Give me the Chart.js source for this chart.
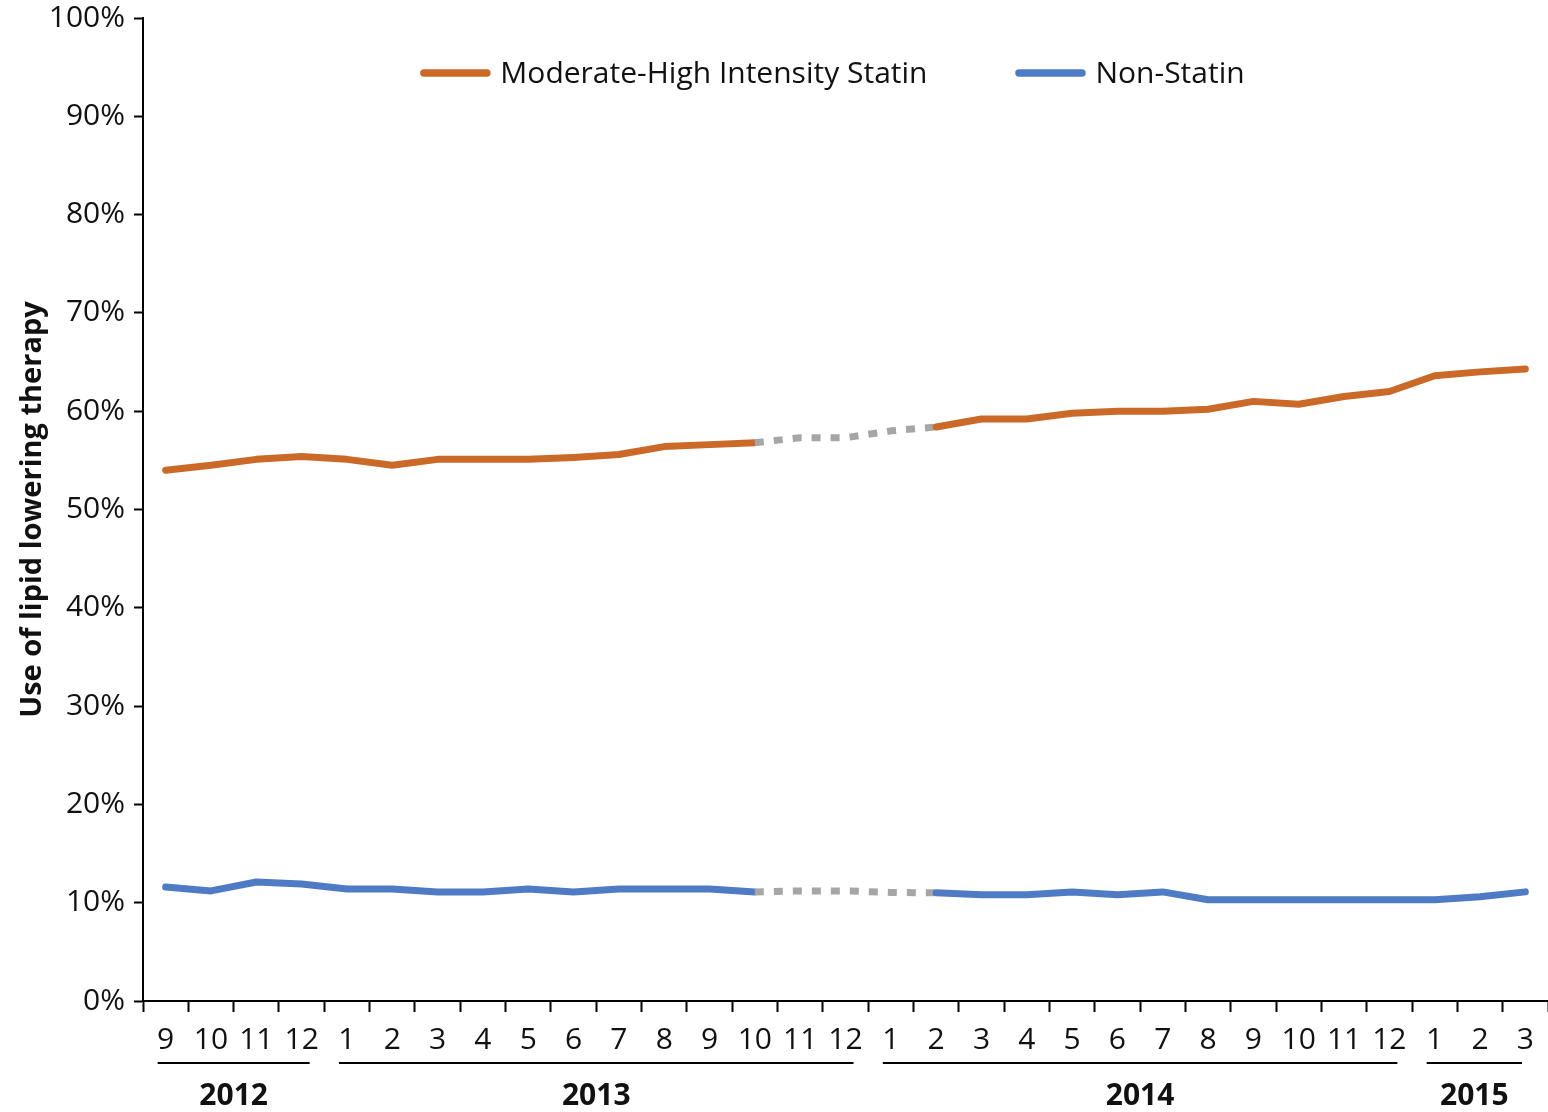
<!DOCTYPE html>
<html>
<head>
<meta charset="utf-8">
<script src="https://cdn.jsdelivr.net/npm/chart.js@4.4.1/dist/chart.umd.min.js"></script>
<style>
  html, body { margin: 0; padding: 0; background: #ffffff; }
  #wrap { width: 1548px; height: 1112px; position: relative; }
</style>
</head>
<body>
<div id="wrap"><canvas id="c"></canvas></div>
<script>
// ---- data ----
const months = ['9','10','11','12',
  '1','2','3','4','5','6','7','8','9','10','11','12',
  '1','2','3','4','5','6','7','8','9','10','11','12',
  '1','2','3'];
const years = ['2012','2012','2012','2012',
  '2013','2013','2013','2013','2013','2013','2013','2013','2013','2013','2013','2013',
  '2014','2014','2014','2014','2014','2014','2014','2014','2014','2014','2014','2014',
  '2015','2015','2015'];
const statinValues = [54.0, 54.5, 55.1, 55.4, 55.1, 54.5, 55.1, 55.1, 55.1, 55.3, 55.6, 56.4, 56.6,
  56.8, 57.3, 57.3, 58.0, 58.4,
  59.2, 59.2, 59.8, 60.0, 60.0, 60.2, 61.0, 60.7, 61.5, 62.0, 63.6, 64.0, 64.3];
const nonStatinValues = [11.6, 11.2, 12.1, 11.9, 11.4, 11.4, 11.1, 11.1, 11.4, 11.1, 11.4, 11.4, 11.4,
  11.1, 11.2, 11.2, 11.05, 11.0,
  10.8, 10.8, 11.1, 10.8, 11.1, 10.3, 10.3, 10.3, 10.3, 10.3, 10.3, 10.6, 11.1];
const seriesNames = ['Moderate-High Intensity Statin', 'Non-Statin'];
const yTicks = [0, 10, 20, 30, 40, 50, 60, 70, 80, 90, 100];
const gapFromIndex = 13;   // 2013-10
const gapToIndex = 17;     // 2014-2

// ---- styles ----
const ORANGE = '#CB6A28';
const BLUE = '#4F7BC4';
const GRAY = '#A6A6A6';
const FONT = '"Open Sans", "Noto Sans", sans-serif';
const TEXT = '#111111';

Chart.defaults.font.family = FONT;
Chart.defaults.color = TEXT;

const inGap = ctx => ctx.p0DataIndex >= gapFromIndex && ctx.p1DataIndex <= gapToIndex;
const segmentStyle = {
  borderColor: ctx => inGap(ctx) ? GRAY : undefined,
  borderDash: ctx => inGap(ctx) ? [9, 10] : undefined,
  borderCapStyle: ctx => inGap(ctx) ? 'butt' : undefined
};

const legendPlugin = {
  id: 'insideLegend',
  afterDraw(chart) {
    const { ctx, chartArea } = chart;
    ctx.save();
    ctx.font = '30px ' + FONT;
    const lineLen = 70, textGap = 10, itemGap = 88;
    const items = chart.data.datasets.map(d => ({ label: d.label, color: d.borderColor }));
    const widths = items.map(it => lineLen + textGap + ctx.measureText(it.label).width);
    const total = widths.reduce((a, b) => a + b, 0) + itemGap * (items.length - 1);
    let x = (chartArea.left + chartArea.right) / 2 - 13 - total / 2;
    const y = chartArea.top + 55;
    items.forEach((it, i) => {
      ctx.strokeStyle = it.color;
      ctx.lineWidth = 7.5;
      ctx.lineCap = 'round';
      ctx.beginPath();
      ctx.moveTo(x + 3.5, y);
      ctx.lineTo(x + lineLen - 3.5, y);
      ctx.stroke();
      ctx.fillStyle = TEXT;
      ctx.textAlign = 'left';
      ctx.textBaseline = 'middle';
      ctx.fillText(it.label, x + lineLen + textGap, y + 1);
      x += widths[i] + itemGap;
    });
    ctx.restore();
  }
};

const yearPlugin = {
  id: 'yearGroups',
  afterDraw(chart) {
    const { ctx, chartArea } = chart;
    const xs = chart.scales.x;
    const runs = [];
    years.forEach((yr, i) => {
      if (!runs.length || runs[runs.length - 1].label !== yr) runs.push({ label: yr, start: i, end: i });
      else runs[runs.length - 1].end = i;
    });
    ctx.save();
    ctx.strokeStyle = '#000';
    ctx.lineWidth = 2;
    ctx.fillStyle = TEXT;
    ctx.font = 'bold 30px ' + FONT;
    ctx.textAlign = 'center';
    ctx.textBaseline = 'middle';
    const lineY = chartArea.bottom + 62;
    runs.forEach(r => {
      const x0 = xs.getPixelForValue(r.start) - 8;
      const x1 = Math.min(xs.getPixelForValue(r.end) + 8, chart.width - 26);
      ctx.beginPath();
      ctx.moveTo(x0, lineY);
      ctx.lineTo(x1, lineY);
      ctx.stroke();
      ctx.fillText(r.label, (x0 + x1) / 2, chartArea.bottom + 95);
    });
    ctx.restore();
  }
};

new Chart(document.getElementById('c'), {
  type: 'line',
  data: {
    labels: months,
    datasets: [
      {
        label: seriesNames[0],
        data: statinValues,
        borderColor: ORANGE,
        backgroundColor: ORANGE,
        borderWidth: 7,
        borderCapStyle: 'round',
        borderJoinStyle: 'round',
        pointRadius: 0,
        tension: 0,
        segment: segmentStyle
      },
      {
        label: seriesNames[1],
        data: nonStatinValues,
        borderColor: BLUE,
        backgroundColor: BLUE,
        borderWidth: 7,
        borderCapStyle: 'round',
        borderJoinStyle: 'round',
        pointRadius: 0,
        tension: 0,
        segment: segmentStyle
      }
    ]
  },
  options: {
    responsive: true,
    maintainAspectRatio: false,
    animation: false,
    layout: { padding: { top: 18, right: 0, bottom: 0, left: 0 } },
    plugins: {
      legend: { display: false },
      tooltip: { enabled: false }
    },
    scales: {
      x: {
        type: 'category',
        offset: true,
        grid: {
          offset: true,
          drawOnChartArea: false,
          drawTicks: true,
          tickLength: 11,
          tickWidth: 2,
          tickColor: '#000'
        },
        border: { display: true, color: '#000', width: 2 },
        ticks: {
          autoSkip: false,
          maxRotation: 0,
          minRotation: 0,
          padding: 10,
          color: TEXT,
          font: { size: 30 }
        },
        afterFit: s => { s.height = 111; s.paddingLeft = 0; s.paddingRight = 0; }
      },
      y: {
        min: 0,
        max: 100,
        afterBuildTicks: s => { s.ticks = yTicks.map(v => ({ value: v })); },
        grid: {
          drawOnChartArea: false,
          drawTicks: true,
          tickLength: 9,
          tickWidth: 2,
          tickColor: '#000'
        },
        border: { display: true, color: '#000', width: 2 },
        ticks: {
          padding: 9,
          color: TEXT,
          font: { size: 30 },
          callback: v => v + '%'
        },
        title: {
          display: true,
          text: 'Use of lipid lowering therapy',
          color: TEXT,
          font: { size: 29, weight: 'bold' },
          padding: { top: 15, bottom: 0 }
        },
        afterFit: s => { s.width = 143; s.paddingTop = 0; s.paddingBottom = 0; }
      }
    }
  },
  plugins: [legendPlugin, yearPlugin]
});
</script>
</body>
</html>
